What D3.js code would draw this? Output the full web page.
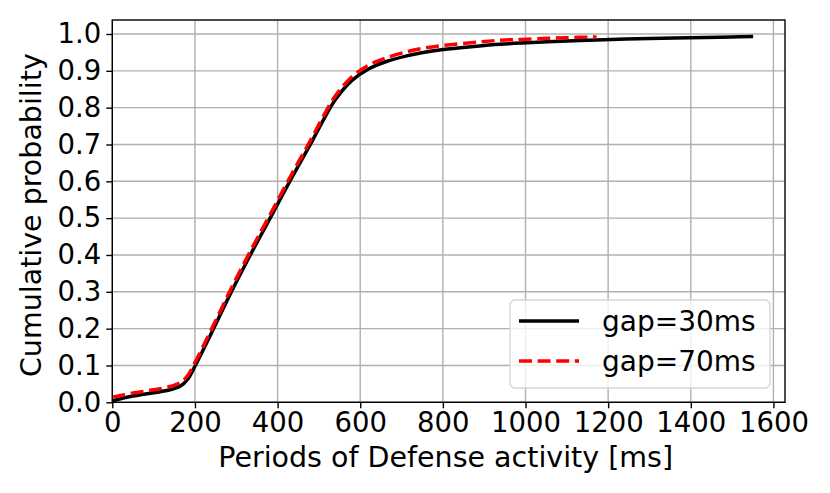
<!DOCTYPE html>
<html>
<head>
<meta charset="utf-8">
<script src="https://cdn.jsdelivr.net/npm/d3@7"></script>
<style>
  body { margin: 0; background: #fff; }
  text { font-family: "DejaVu Sans", sans-serif; fill: #000; }
</style>
</head>
<body>
<script>
// CDF of defense activity periods
const gap30X = [0, 50, 100, 140, 165, 182, 200, 240, 285, 334, 382, 432, 483, 510, 540, 580, 620, 660, 710, 752, 801, 874, 938, 1003, 1100, 1172, 1300, 1398, 1500, 1551];
const gap30Y = [0.004, 0.017, 0.026, 0.034, 0.044, 0.062, 0.098, 0.188, 0.293, 0.400, 0.500, 0.605, 0.708, 0.765, 0.822, 0.874, 0.905, 0.924, 0.940, 0.950, 0.958, 0.966, 0.972, 0.976, 0.981, 0.984, 0.988, 0.990, 0.992, 0.993];

const gap70X = [0, 50, 100, 140, 165, 182, 200, 240, 285, 334, 382, 432, 483, 510, 540, 580, 620, 660, 710, 752, 801, 874, 938, 1003, 1100, 1172];
const gap70Y = [0.014, 0.025, 0.034, 0.043, 0.054, 0.072, 0.108, 0.198, 0.303, 0.410, 0.510, 0.615, 0.718, 0.775, 0.832, 0.884, 0.915, 0.934, 0.951, 0.961, 0.969, 0.977, 0.983, 0.986, 0.990, 0.992];

const xTicks = [0, 200, 400, 600, 800, 1000, 1200, 1400, 1600];
const yTicks = [0.0, 0.1, 0.2, 0.3, 0.4, 0.5, 0.6, 0.7, 0.8, 0.9, 1.0];

const series = [
  {label: "gap=30ms", xs: gap30X, ys: gap30Y, color: "#000", dash: null},
  {label: "gap=70ms", xs: gap70X, ys: gap70Y, color: "#ff0000", dash: "13,5.6"}
];

const W = 830, H = 493;
const margin = {top: 20, right: 45, bottom: 90.7, left: 112.3};
const width = W - margin.left - margin.right,
      height = H - margin.top - margin.bottom;

const svg = d3.select("body").append("svg")
    .attr("width", W)
    .attr("height", H);

const g = svg.append("g")
    .attr("transform", `translate(${margin.left},${margin.top})`);

const x = d3.scaleLinear().domain([0, 1628]).range([0, width]);
const y = d3.scaleLinear().domain([0, 1.038]).range([height, 0]);

// grid
g.append("g").selectAll("line")
  .data(xTicks).enter().append("line")
    .attr("x1", d => x(d)).attr("x2", d => x(d))
    .attr("y1", 0).attr("y2", height)
    .attr("stroke", "#b0b0b0").attr("stroke-width", 1.4);
g.append("g").selectAll("line")
  .data(yTicks).enter().append("line")
    .attr("x1", 0).attr("x2", width)
    .attr("y1", d => y(d)).attr("y2", d => y(d))
    .attr("stroke", "#b0b0b0").attr("stroke-width", 1.4);

// axes
const xAxis = g.append("g")
    .attr("transform", `translate(0,${height})`)
    .call(d3.axisBottom(x).tickValues(xTicks).tickFormat(d3.format("d")).tickSize(6).tickPadding(4));
const yAxis = g.append("g")
    .call(d3.axisLeft(y).tickValues(yTicks).tickFormat(d3.format(".1f")).tickSize(6).tickPadding(5));

[xAxis, yAxis].forEach(a => {
  a.select(".domain").remove();
  a.selectAll(".tick line").attr("stroke", "#000").attr("stroke-width", 1.4);
  a.selectAll(".tick text")
    .style("font-family", "DejaVu Sans, sans-serif")
    .style("font-size", "27.5px")
    .attr("fill", "#000");
});

// curves
const line = d3.line()
    .x(d => x(d[0]))
    .y(d => y(d[1]))
    .curve(d3.curveCatmullRom.alpha(0.5));

series.forEach(s => {
  g.append("path")
    .datum(d3.zip(s.xs, s.ys))
    .attr("fill", "none")
    .attr("stroke", s.color)
    .attr("stroke-width", 3.5)
    .attr("stroke-dasharray", s.dash)
    .attr("d", line);
});

// frame
g.append("rect")
    .attr("width", width).attr("height", height)
    .attr("fill", "none").attr("stroke", "#000").attr("stroke-width", 1.4);

// axis labels
svg.append("text")
    .attr("x", margin.left + width / 2 - 3)
    .attr("y", 467)
    .attr("text-anchor", "middle")
    .style("font-size", "28.5px")
    .text("Periods of Defense activity [ms]");

svg.append("text")
    .attr("transform", `translate(41,${margin.top + height / 2 + 4}) rotate(-90)`)
    .attr("text-anchor", "middle")
    .style("font-size", "28.5px")
    .text("Cumulative probability");

// legend
const leg = g.append("g")
    .attr("transform", `translate(${510 - margin.left},${300 - margin.top})`);
leg.append("rect")
    .attr("width", 260).attr("height", 88)
    .attr("rx", 5).attr("ry", 5)
    .attr("fill", "#fff").attr("fill-opacity", 0.8)
    .attr("stroke", "#d6d6d6").attr("stroke-width", 1.4);

series.forEach((s, i) => {
  const cy = 21 + i * 40;
  leg.append("line")
    .attr("x1", 9).attr("x2", 69)
    .attr("y1", cy).attr("y2", cy)
    .attr("stroke", s.color).attr("stroke-width", 3.5)
    .attr("stroke-dasharray", s.dash);
  leg.append("text")
    .attr("x", 92).attr("y", cy)
    .attr("dy", "0.35em")
    .style("font-size", "28px")
    .text(s.label);
});
</script>
</body>
</html>
